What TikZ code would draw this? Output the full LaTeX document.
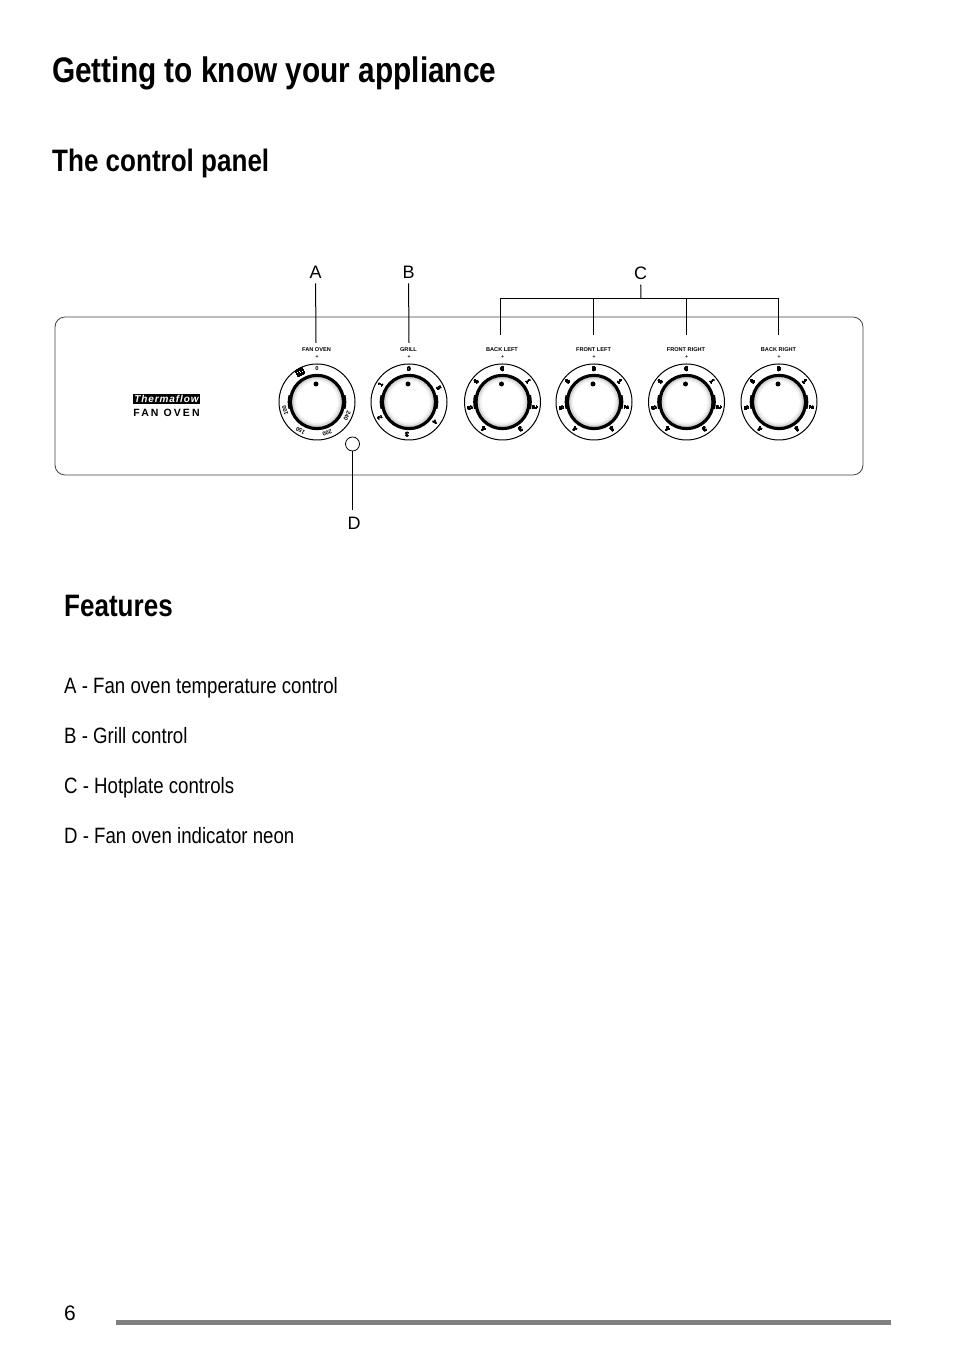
\documentclass[tikz,border=0pt]{standalone}
\usepackage{fontspec}
\setmainfont[FakeStretch=0.84]{Liberation Sans}
\newfontfamily\plainfont{Liberation Sans}
\newfontfamily\brandfont[LetterSpace=9]{Liberation Sans}
\newfontfamily\wordfont[LetterSpace=20]{Liberation Sans}
\usetikzlibrary{positioning,calc}
\definecolor{barcol}{gray}{0.5}
\tikzset{%
   headline/.style={anchor=base west, inner sep=0pt, font=\bfseries\fontsize{35.5}{36}\selectfont},
   subhead/.style={anchor=base west, inner sep=0pt, font=\bfseries\fontsize{31}{31}\selectfont},
   item/.style={anchor=base west, inner sep=0pt, font=\fontsize{22.2}{22.5}\selectfont},
   callout/.style={inner sep=5pt, font=\plainfont\fontsize{18}{18}\selectfont},
   knoblabel/.style={inner sep=0pt, font=\plainfont\bfseries\fontsize{5.6}{6}\selectfont},
   dial/.style={inner sep=0pt, font=\plainfont\bfseries\fontsize{6.5}{8}\selectfont},
   dialsmall/.style={inner sep=0pt, font=\plainfont\bfseries\fontsize{5.8}{7}\selectfont},
   leader/.style={draw=black, line width=1pt},
}
% one knob: centre, name, label
\newcommand{\knobbody}[3]{%
  \node[circle, draw=black, line width=1pt, minimum size=76pt, inner sep=0pt] (#2) at (#1) {};
  \draw[black!6, line width=2pt] (#1) circle (22pt);
  \draw[black!16, line width=2pt] (#1) circle (24pt);
  \draw[line width=3.2pt] (#1) circle (26.6pt);
  \foreach \ang in {0,180}
    \draw[line width=4.2pt] ($(#1)+(\ang-14:27.2pt)$) arc[start angle=\ang-14, end angle=\ang+14, radius=27.2pt];
  \fill ($(#1)+(-1,18)$) circle (2.5pt);
  \node[knoblabel] (#2t) at ($(#1)+(-0.5,52.5)$) {#3};
  \node[inner sep=0pt, font=\plainfont\bfseries\fontsize{5}{5}\selectfont] at ($(#1)+(0,45)$) {+};
}
\newcommand{\dialmark}[4][dial]{\node[#1, rotate=-#3] at ($(#2)+(90-#3:33pt)$) {#4};}
\begin{document}
\begin{tikzpicture}[x=1pt, y=1pt]
  \useasboundingbox (0,0) rectangle (954,1352);
  \node[headline] (title) at (52,1269) {Getting to know your appliance};
  \node[subhead] (panelhead) at (52,1180) {The control panel};
  \node[subhead] (feathead) at (64,735) {Features};

  \draw[line width=0.8pt, draw=black!75, rounded corners=10pt] (55,877) rectangle (863,1035);

  \node[fill=black, text=white, inner sep=0pt, minimum width=67pt, minimum height=10.5pt, font=\brandfont\bfseries\itshape\fontsize{10}{10}\selectfont] (brand) at (166.5,953) {Thermaflow};
  \node[inner sep=0pt, font=\wordfont\bfseries\fontsize{10.5}{10.5}\selectfont, below=4.5pt of brand] (fanoven) {FAN OVEN};

  \knobbody{317,950}{fan}{FAN OVEN}
  \knobbody{409,950}{grill}{GRILL}
  \knobbody{502.5,950}{bl}{BACK LEFT}
  \knobbody{594,950}{fl}{FRONT LEFT}
  \knobbody{686.5,950}{fr}{FRONT RIGHT}
  \knobbody{779,950}{br}{BACK RIGHT}

  \foreach \a/\t in {0/0,114/240,162/200,210/150,255/100}
    \dialmark[dialsmall]{317,950}{\a}{\t}
  \foreach \a/\t in {0/0,65/5,128/4,183/3,242/2,301/1}
    \dialmark{409,950}{\a}{\t}
  \foreach \c in {502.5,594,686.5,779}
    \foreach \a/\t in {0/0,51/1,99/2,147/3,215/4,259/5,307/6}
      \dialmark{\c,950}{\a}{\t}
  % fan symbol on the oven dial
  \draw[line width=0.6pt, shift={(300,980)}, rotate=30] (-3.5,-3) rectangle (3.5,3) (-1.2,-3) -- (-1.2,3) (1.2,-3) -- (1.2,3);

  \node[circle, draw=black, line width=0.8pt, minimum size=14pt, inner sep=0pt] (neon) at (352.5,908) {};

  \node[callout] (A) at (315.5,1080) {A};
  \node[callout] (B) at (408.5,1080) {B};
  \node[callout] (C) at (640.5,1079) {C};
  \node[callout] (D) at (354,829) {D};
  \coordinate (tA) at (316,1009);
  \coordinate (tB) at (409,1009);
  \coordinate (busC) at (641,1053.5);
  \coordinate (tD) at (352.5,842);
  \draw[leader] (A) -- (tA);
  \draw[leader] (B) -- (tB);
  \draw[leader] (C) -- (busC);
  \draw[leader] (neon) -- (tD);
  \draw[leader] (500,1017) |- (778,1053.5) -- (778,1017);
  \draw[leader] (593,1053.5) -- (593,1017);
  \draw[leader] (686,1053.5) -- (686,1017);

  \node[item] (fa) at (64,658) {A - Fan oven temperature control};
  \node[item] (fb) at (64,608) {B - Grill control};
  \node[item] (fc) at (64,558) {C - Hotplate controls};
  \node[item] (fd) at (64,508) {D - Fan oven indicator neon};

  \node[item, font=\plainfont\fontsize{21}{21}\selectfont] (pg) at (64,31) {6};
  \fill[barcol] (116,27) rectangle (891,32);
\end{tikzpicture}
\end{document}
